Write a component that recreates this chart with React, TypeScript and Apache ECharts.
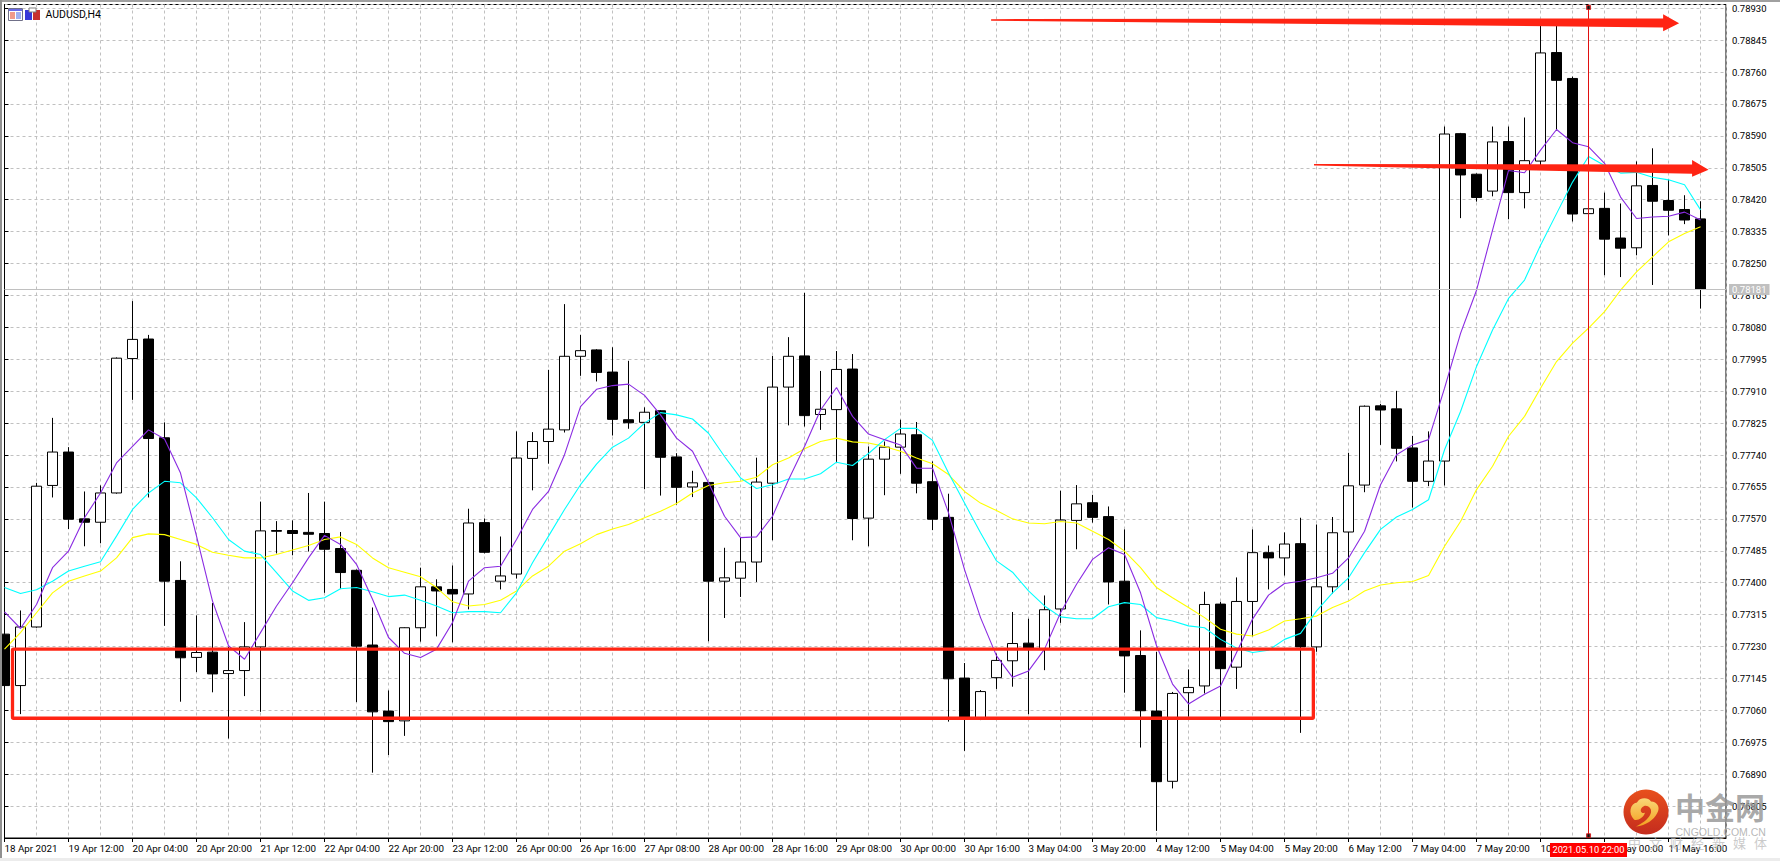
import * as echarts from "echarts";
import { useEffect, useRef } from "react";

// prices are in points (1e-5), the axis formats them back to 0.xxxxx
const tickLabels = [
  "18 Apr 2021", "19 Apr 12:00", "20 Apr 04:00", "20 Apr 20:00", "21 Apr 12:00", "22 Apr 04:00", "22 Apr 20:00",
  "23 Apr 12:00", "26 Apr 00:00", "26 Apr 16:00", "27 Apr 08:00", "28 Apr 00:00", "28 Apr 16:00", "29 Apr 08:00",
  "30 Apr 00:00", "30 Apr 16:00", "3 May 04:00", "3 May 20:00", "4 May 12:00", "5 May 04:00", "5 May 20:00",
  "6 May 12:00", "7 May 04:00", "7 May 20:00", "10 May 12:00", "11 May 00:00", "11 May 16:00",
];

const opens = [
  77263, 77126, 77282, 77659, 77748, 77570, 77561, 77639, 77997, 78049,
  77786, 77406, 77201, 77215, 77158, 77166, 77229, 77539, 77539, 77534,
  77531, 77491, 77433, 77234, 77058, 77032, 77280, 77389, 77382, 77370,
  77560, 77404, 77423, 77731, 77776, 77807, 78003, 78020, 77961, 77834,
  77827, 77858, 77735, 77655, 77667, 77404, 77412, 77455, 77665, 77921,
  78004, 77848, 77861, 77969, 77572, 77729, 77761, 77794, 77669, 77574,
  77146, 77036, 77147, 77192, 77239, 77224, 77330, 77566, 77613, 77576,
  77404, 77206, 77058, 76871, 77107, 77125, 77343, 77175, 77350, 77480,
  77466, 77504, 77229, 77389, 77535, 77660, 77871, 77863, 77759, 77670,
  77724, 78596, 78488, 78443, 78575, 78439, 78523, 78812, 78743, 78383,
  78397, 78318, 78292, 78458, 78418, 78394, 78369,
];
const closes = [
  77126, 77282, 77657, 77748, 77569, 77561, 77639, 77998, 78048, 77784,
  77404, 77200, 77214, 77157, 77166, 77229, 77538, 77537, 77531, 77529,
  77489, 77427, 77231, 77056, 77030, 77280, 77389, 77378, 77370, 77559,
  77481, 77418, 77732, 77776, 77809, 78003, 78018, 77960, 77835, 77826,
  77854, 77734, 77654, 77666, 77404, 77413, 77455, 77668, 77921, 78003,
  77845, 77862, 77968, 77571, 77729, 77761, 77796, 77665, 77569, 77144,
  77036, 77110, 77193, 77238, 77222, 77328, 77567, 77610, 77574, 77402,
  77205, 77059, 76870, 77105, 77121, 77342, 77171, 77350, 77480, 77466,
  77503, 77229, 77389, 77533, 77658, 77870, 77860, 77758, 77670, 77724,
  78595, 78486, 78426, 78574, 78439, 78524, 78811, 78738, 78382, 78396,
  78315, 78291, 78457, 78416, 78392, 78366, 78181,
];
const lows = [
  77110, 77050, 77280, 77627, 77543, 77497, 77505, 77637, 77887, 77627,
  77285, 77083, 77162, 77108, 76985, 77098, 77056, 77478, 77473, 77483,
  77373, 77384, 77082, 76894, 76941, 76992, 77243, 77257, 77241, 77329,
  77478, 77382, 77411, 77646, 77717, 77800, 77951, 77936, 77792, 77810,
  77649, 77632, 77608, 77628, 77244, 77306, 77362, 77402, 77513, 77819,
  77816, 77807, 77719, 77513, 77497, 77633, 77690, 77638, 77540, 77030,
  76952, 77034, 77117, 77123, 77050, 77167, 77293, 77489, 77560, 77342,
  77107, 76961, 76739, 76852, 77043, 77105, 77033, 77117, 77257, 77382,
  77419, 77000, 77216, 77371, 77380, 77641, 77767, 77723, 77600, 77657,
  77659, 78371, 78415, 78429, 78368, 78397, 78505, 78604, 78362, 78383,
  78219, 78214, 78272, 78193, 78325, 78355, 78130,
];
const highs = [
  77290, 77326, 77666, 77839, 77761, 77643, 77659, 78000, 78150, 78060,
  77827, 77457, 77313, 77346, 77229, 77295, 77616, 77564, 77566, 77639,
  77616, 77535, 77435, 77334, 77113, 77281, 77440, 77409, 77446, 77597,
  77571, 77523, 77803, 77801, 77967, 78142, 78060, 78022, 78027, 77991,
  77867, 77860, 77745, 77698, 77668, 77493, 77520, 77733, 78004, 78054,
  78172, 77964, 78017, 78009, 77763, 77776, 77834, 77828, 77723, 77637,
  77186, 77114, 77211, 77322, 77304, 77366, 77645, 77660, 77634, 77603,
  77542, 77273, 77216, 77109, 77169, 77376, 77349, 77414, 77542, 77499,
  77534, 77573, 77555, 77575, 77746, 77872, 77876, 77911, 77791, 77803,
  78615, 78598, 78490, 78615, 78615, 78639, 78899, 78899, 78748, 78396,
  78439, 78410, 78522, 78557, 78474, 78432, 78416,
];

const maFast = [
  77322, 77278, 77342, 77440, 77484, 77573, 77639, 77719, 77763, 77807,
  77783, 77692, 77524, 77351, 77232, 77196, 77267, 77338, 77400, 77466,
  77526, 77502, 77449, 77356, 77254, 77212, 77201, 77223, 77294, 77404,
  77440, 77444, 77515, 77595, 77643, 77741, 77869, 77915, 77925, 77929,
  77899, 77847, 77785, 77750, 77666, 77577, 77520, 77522, 77577, 77674,
  77763, 77860, 77920, 77843, 77796, 77781, 77767, 77705, 77705, 77586,
  77435, 77307, 77205, 77148, 77165, 77223, 77320, 77396, 77462, 77493,
  77475, 77373, 77232, 77130, 77077, 77103, 77125, 77214, 77303, 77367,
  77398, 77404, 77413, 77425, 77466, 77537, 77661, 77741, 77767, 77781,
  77918, 78064, 78179, 78339, 78498, 78492, 78552, 78607, 78572, 78561,
  78517, 78427, 78370, 78374, 78376, 78387, 78366,
];
const maMid = [
  77387, 77371, 77381, 77404, 77431, 77444, 77456, 77524, 77595, 77639,
  77670, 77666, 77626, 77573, 77515, 77484, 77475, 77427, 77378, 77353,
  77360, 77384, 77387, 77376, 77363, 77367, 77353, 77338, 77320, 77323,
  77323, 77320, 77373, 77453, 77524, 77595, 77661, 77716, 77761, 77785,
  77825, 77853, 77847, 77836, 77798, 77736, 77679, 77651, 77661, 77676,
  77676, 77690, 77721, 77712, 77744, 77781, 77811, 77811, 77779, 77692,
  77612, 77533, 77458, 77428, 77378, 77338, 77309, 77304, 77304, 77336,
  77347, 77342, 77307, 77298, 77285, 77280, 77249, 77226, 77214, 77220,
  77249, 77265, 77325, 77373, 77413, 77480, 77542, 77575, 77595, 77621,
  77754, 77856, 77976, 78073, 78157, 78206, 78299, 78383, 78467, 78535,
  78511, 78491, 78493, 78480, 78473, 78460, 78393,
];
const maSlow = [
  77223, 77267, 77320, 77373, 77404, 77418, 77431, 77466, 77520, 77530,
  77528, 77515, 77502, 77481, 77473, 77466, 77466, 77475, 77487, 77499,
  77515, 77522, 77502, 77466, 77440, 77428, 77416, 77387, 77349, 77338,
  77342, 77353, 77378, 77418, 77444, 77484, 77504, 77528, 77543, 77555,
  77573, 77590, 77611, 77639, 77659, 77666, 77670, 77681, 77714, 77732,
  77757, 77776, 77785, 77775, 77772, 77763, 77750, 77732, 77717, 77688,
  77643, 77612, 77592, 77570, 77559, 77557, 77563, 77559, 77537, 77515,
  77484, 77440, 77387, 77360, 77334, 77307, 77276, 77263, 77258, 77274,
  77298, 77304, 77311, 77334, 77351, 77378, 77394, 77400, 77403, 77419,
  77497, 77563, 77648, 77710, 77790, 77843, 77918, 77989, 78038, 78078,
  78122, 78179, 78228, 78268, 78308, 78330, 78348,
];

const lastPrice = 78181;
const crossBar = 99;
const crossEnds = [78932, 76726];
const crossLabel = "2021.05.10 22:00";

// hand drawn marks on the chart, [bar, price]
const upperArrow = [
  [61.66, 78901], [103.66, 78903], [103.66, 78914], [104.66, 78890], [103.66, 78869], [103.66, 78879], [61.66, 78897],
];
const lowerArrow = [
  [81.84, 78515], [105.47, 78514], [105.47, 78526], [106.5, 78500], [105.47, 78481], [105.47, 78489], [81.84, 78511],
];
const supportBox = [[0.5, 77223], [81.8, 77039]];

const watermarkName = "中金网";
const watermarkSite = "CNGOLD.COM.CN";
const watermarkSlogan = ["中", "文", "财", "经", "新", "媒", "体"];

const axisFont = "Roboto, 'Liberation Sans', sans-serif";
const gridLine = { show: true, lineStyle: { color: "#c0c0c0", type: [3, 3] as number[], width: 1 } };
const xMax = 107.59;

echarts.graphic.registerShape(
  "cngoldSwirl",
  echarts.graphic.extendPath(
    "M10 30C4 24 6 14 13 13C15 8 24 7 27 12C33 12 37 18 33 24C30 30 22 36 12 37C20 33 26 28 27 23C28 18 22 14 18 18C15 21 18 25 21 23C20 28 13 32 10 30Z",
    {},
  ),
);

const toRow = (values: number[]) => values.map((v, i) => [i, v]);

const maSeries = (name: string, values: number[], color: string) => ({
  name,
  type: "line",
  data: toRow(values),
  showSymbol: false,
  symbol: "none",
  silent: true,
  z: 4,
  lineStyle: { color, width: 1.1 },
});

const arrowSeries = (points: number[][]) => ({
  type: "custom",
  data: [0],
  silent: true,
  z: 10,
  clip: false,
  renderItem: (_: unknown, api: any) => ({
    type: "polygon",
    shape: { points: points.map((p) => api.coord(p)) },
    style: { fill: "#ff2413" },
  }),
});

export default function App(): React.ReactElement {
  const containerRef = useRef<HTMLDivElement | null>(null);

  useEffect(() => {
    const target = containerRef.current;
    if (target === null) return;

    const chart = echarts.init(target, null, { renderer: "svg" });

    chart.setOption({
      animation: false,
      backgroundColor: "#ffffff",
      textStyle: { fontFamily: axisFont },
      grid: {
        left: 4.5,
        top: 4.5,
        width: 1721.5,
        height: 833.5,
        show: true,
        borderColor: "#000000",
        borderWidth: 1,
        backgroundColor: "#ffffff",
      },
      xAxis: [
        {
          type: "value",
          position: "bottom",
          min: 0,
          max: xMax,
          interval: 2,
          axisLine: { show: false },
          axisTick: { show: false },
          axisLabel: { show: false },
          splitLine: gridLine,
        },
        {
          type: "value",
          position: "bottom",
          min: 0,
          max: xMax,
          interval: 4,
          axisLine: { show: true, lineStyle: { color: "#000000", width: 1 } },
          axisTick: { show: true, length: 4, lineStyle: { color: "#000000" } },
          splitLine: { show: false },
          axisLabel: {
            show: true,
            align: "left",
            margin: 5,
            color: "#000000",
            fontSize: 9.8,
            fontFamily: axisFont,
            showMaxLabel: false,
            formatter: (value: number) => tickLabels[value / 4] ?? "",
          },
        },
      ],
      yAxis: {
        type: "value",
        position: "right",
        min: 76720,
        max: 78940,
        interval: 85,
        axisLine: { show: true, lineStyle: { color: "#000000", width: 1 } },
        axisTick: { show: true, length: 4, lineStyle: { color: "#000000" } },
        splitLine: gridLine,
        axisLabel: {
          margin: 6,
          color: "#000000",
          fontSize: 9.5,
          fontFamily: axisFont,
          showMinLabel: false,
          showMaxLabel: false,
          formatter: (value: number) => (value / 100000).toFixed(5),
        },
      },
      series: [
        {
          name: "AUDUSD,H4",
          type: "candlestick",
          data: opens.map((o, i) => [i, o, closes[i], lows[i], highs[i]]),
          encode: { x: 0, y: [1, 2, 3, 4] },
          barWidth: 10,
          silent: true,
          z: 3,
          itemStyle: {
            color: "#ffffff",
            color0: "#000000",
            borderColor: "#000000",
            borderColor0: "#000000",
            borderWidth: 1,
          },
          markLine: {
            silent: true,
            symbol: "none",
            animation: false,
            data: [
              {
                yAxis: lastPrice,
                lineStyle: { color: "#c0c0c0", type: "solid", width: 1 },
                label: {
                  show: true,
                  position: "end",
                  distance: 3,
                  color: "#ffffff",
                  backgroundColor: "#c0c0c0",
                  padding: [1, 3, 0, 3],
                  fontSize: 9.5,
                  fontFamily: axisFont,
                  formatter: () => (lastPrice / 100000).toFixed(5),
                },
              },
              {
                xAxis: crossBar,
                lineStyle: { color: "#e01010", type: "solid", width: 1 },
                label: { show: false },
              },
            ],
          },
        },
        maSeries("MA slow", maSlow, "#ffff00"),
        maSeries("MA mid", maMid, "#00ffff"),
        maSeries("MA fast", maFast, "#8a2be2"),
        {
          type: "custom",
          data: [0],
          silent: true,
          z: 10,
          clip: false,
          renderItem: (_: unknown, api: any) => {
            const a = api.coord(supportBox[0]);
            const b = api.coord(supportBox[1]);
            return {
              type: "rect",
              shape: { x: a[0], y: a[1], width: b[0] - a[0], height: b[1] - a[1], r: 1 },
              style: { fill: "none", stroke: "#ff2413", lineWidth: 3.3 },
            };
          },
        },
        arrowSeries(upperArrow),
        arrowSeries(lowerArrow),
        {
          type: "scatter",
          data: crossEnds.map((p) => [crossBar, p]),
          symbol: "rect",
          symbolSize: 4,
          silent: true,
          z: 11,
          itemStyle: { color: "#000000", borderColor: "#e01010", borderWidth: 1 },
        },
      ],
      graphic: [
        // window edges
        { type: "rect", z: 50, shape: { x: 0, y: 0, width: 1780, height: 2 }, style: { fill: "#a0a0a0" } },
        { type: "rect", z: 50, shape: { x: 0, y: 0, width: 2, height: 861 }, style: { fill: "#909090" } },
        { type: "rect", z: 50, shape: { x: 0, y: 858, width: 1780, height: 3 }, style: { fill: "#ececec" } },
        // chart title with its two small icons
        { type: "rect", z: 50, shape: { x: 8.5, y: 8.5, width: 14, height: 12 }, style: { fill: "#ffffff", stroke: "#707088", lineWidth: 1 } },
        { type: "rect", z: 51, shape: { x: 9, y: 9, width: 13, height: 2 }, style: { fill: "#6a6ae8" } },
        { type: "rect", z: 51, shape: { x: 10, y: 12, width: 5, height: 7 }, style: { fill: "#f09a8a" } },
        { type: "rect", z: 51, shape: { x: 16, y: 12, width: 5, height: 7 }, style: { fill: "#a0b0f0" } },
        { type: "rect", z: 50, shape: { x: 25, y: 10, width: 7, height: 10 }, style: { fill: "#3838d8" } },
        { type: "rect", z: 50, shape: { x: 33, y: 10, width: 7, height: 10 }, style: { fill: "#c83030" } },
        { type: "rect", z: 51, shape: { x: 29, y: 8, width: 7, height: 4 }, style: { fill: "#ffffff", stroke: "#808080", lineWidth: 1 } },
        {
          type: "text",
          z: 50,
          style: { text: "AUDUSD,H4", x: 45.5, y: 9, fill: "#000000", font: `10.5px ${axisFont}` },
        },
        // label of the crosshair on the time scale
        { type: "rect", z: 60, shape: { x: 1550, y: 843, width: 77, height: 14 }, style: { fill: "#ff0000" } },
        {
          type: "text",
          z: 61,
          style: {
            text: crossLabel,
            x: 1588.5,
            y: 845,
            align: "center",
            fill: "#ffffff",
            font: `9.3px ${axisFont}`,
          },
        },
        // watermark
        {
          type: "circle",
          z: 70,
          shape: { cx: 1646, cy: 812, r: 22.5 },
          style: {
            fill: new echarts.graphic.LinearGradient(0, 0, 0, 1, [
              { offset: 0, color: "#e8501c" },
              { offset: 1, color: "#c42c1e" },
            ]),
          },
        },
        {
          type: "cngoldSwirl",
          z: 71,
          x: 1624,
          y: 789.5,
          scaleX: 1,
          scaleY: 1,
          style: {
            fill: new echarts.graphic.LinearGradient(0, 0, 0, 1, [
              { offset: 0, color: "#f9d878" },
              { offset: 1, color: "#f4a020" },
            ]),
          },
        },
        {
          type: "text",
          z: 70,
          style: {
            text: watermarkName,
            x: 1675,
            y: 791,
            fill: "rgba(150,150,150,0.82)",
            font: "bold 30px 'Noto Sans CJK SC'",
          },
        },
        {
          type: "text",
          z: 70,
          style: {
            text: watermarkSite,
            x: 1675.5,
            y: 826,
            fill: "rgba(170,170,170,0.85)",
            font: "10.5px 'Liberation Sans'",
          },
        },
        ...watermarkSlogan.map((char, i) => ({
          type: "text",
          z: 70,
          style: {
            text: char,
            x: 1628 + i * 21,
            y: 836,
            fill: "rgba(185,185,185,0.75)",
            font: "13px 'Noto Sans CJK SC'",
          },
        })),
      ],
    });

    return () => {
      chart.dispose();
    };
  }, []);

  return <div ref={containerRef} style={{ position: "fixed", left: 0, top: 0, width: 1780, height: 861 }} />;
}
